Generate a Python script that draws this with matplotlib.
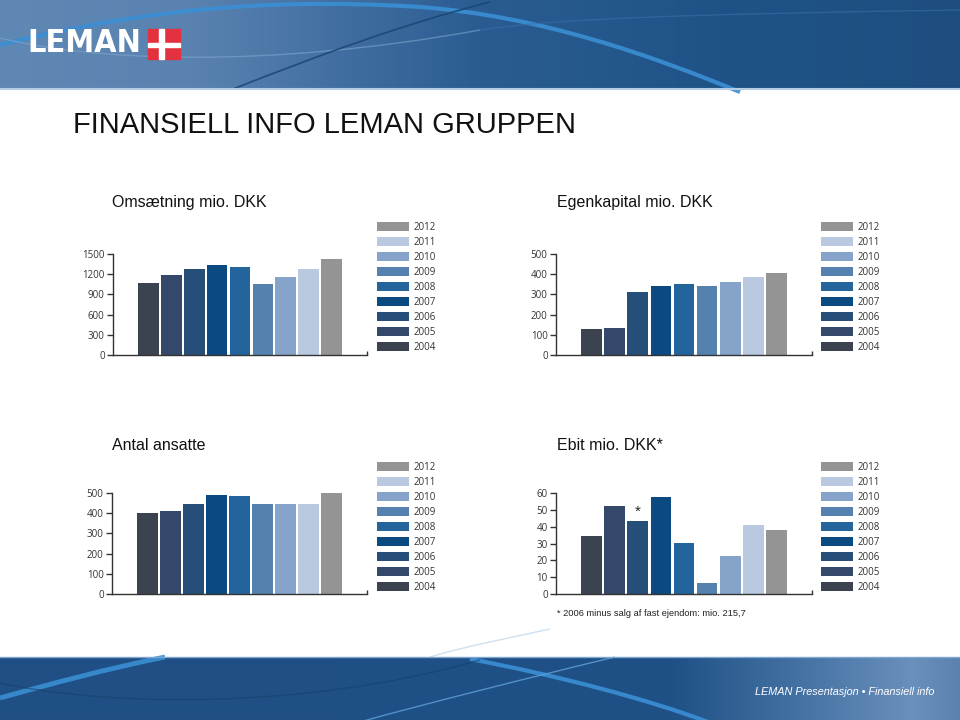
import numpy as np
import matplotlib
matplotlib.use("Agg")
import matplotlib.pyplot as plt
from matplotlib.patches import Patch, Rectangle, PathPatch
from matplotlib.path import Path
from matplotlib.font_manager import FontProperties, findfont

years = ["2004", "2005", "2006", "2007", "2008", "2009", "2010", "2011", "2012"]
bar_colors = ["#3c4350", "#34496a", "#254f79", "#0b4a80", "#23649c",
              "#5581af", "#86a3ca", "#b8c9e0", "#949494"]

omsaetning = [1064, 1188, 1272, 1342, 1312, 1050, 1153, 1272, 1431]
egenkapital = [129, 132, 314, 343, 350, 343, 360, 388, 408]
ansatte = [399, 409, 444, 490, 487, 444, 444, 446, 500]
ebit = [34.7, 52.3, 43.2, 57.8, 30.3, 6.7, 22.8, 40.8, 37.8]

W, H = 960, 720
fig = plt.figure(figsize=(9.6, 7.2), dpi=100)
fig.patch.set_facecolor("white")

# background layer in pixel coordinates (header / footer bands)
bg = fig.add_axes([0, 0, 1, 1], zorder=-5)
bg.set_xlim(0, W)
bg.set_ylim(H, 0)
bg.axis("off")


def gradient(stops, width=W):
    xs = np.linspace(0, 1, width)
    pos = [s[0] for s in stops]
    rgb = np.array([matplotlib.colors.to_rgb(s[1]) for s in stops])
    row = np.stack([np.interp(xs, pos, rgb[:, k]) for k in range(3)], axis=-1)
    return row[None, :, :]


def curve(pts, **kw):
    # pts: start point followed by groups of 3 (cubic bezier)
    codes = [Path.MOVETO] + [Path.CURVE4] * (len(pts) - 1)
    bg.add_patch(PathPatch(Path(pts, codes), facecolor="none", **kw))


head = gradient([(0, "#6088b5"), (0.2, "#5a82b0"), (0.5, "#2a5c92"), (0.75, "#1f5387"), (1, "#1e4e80")])
bg.imshow(head, extent=(0, W, 88, 0), aspect="auto", interpolation="bilinear")
bg.plot([0, W], [88.5, 88.5], color="#b5cde3", lw=1.5)

curve([(0, 45), (120, 15), (250, -4), (420, 7), (540, 16), (650, 55), (740, 92)],
      edgecolor="#3a8fd4", lw=3, alpha=0.9)
curve([(0, 38), (90, 60), (260, 70), (480, 30)], edgecolor="#7fa6cf", lw=1, alpha=0.6)
curve([(480, 30), (560, 18), (700, 14), (960, 10)], edgecolor="#3a6fa6", lw=1, alpha=0.6)
curve([(233, 89), (320, 55), (400, 25), (490, 2)], edgecolor="#1b4677", lw=1.2, alpha=0.9)

# logo
logo_font = None
for fam, stretch in [("Liberation Sans Narrow", "normal"), ("DejaVu Sans", "condensed")]:
    path = findfont(FontProperties(family=fam, stretch=stretch, weight="bold"), fallback_to_default=True)
    if "Narrow" in path or "Condensed" in path:
        logo_font = (fam, stretch)
        break
if logo_font is None:
    logo_font = ("DejaVu Sans", "normal")
logo = fig.text(27 / W, 1 - 44 / H, "LEMAN", color="white", fontsize=24, fontweight="bold",
                family=logo_font[0], fontstretch=logo_font[1], va="center", ha="left")
renderer = fig.canvas.get_renderer()
ext = logo.get_window_extent(renderer)
logo.set_fontsize(24 * 114 / ext.width)
bg.add_patch(Rectangle((148, 29), 32, 30, color="#e4313f"))
bg.add_patch(Rectangle((159, 29), 4.5, 30, color="white"))
bg.add_patch(Rectangle((148, 43), 32, 4, color="white"))

# footer
foot = gradient([(0, "#1f4f84"), (0.7, "#1f5186"), (0.86, "#4c78a9"), (0.95, "#6a90bc"), (1, "#5b82b0")])
bg.imshow(foot, extent=(0, W, H, 657), aspect="auto", interpolation="bilinear")
bg.plot([0, W], [657, 657], color="#7fa6cf", lw=1)
curve([(0, 698), (50, 684), (110, 668), (165, 657)], edgecolor="#3a8fd4", lw=3.5, alpha=0.9)
curve([(470, 659), (560, 676), (650, 700), (708, 722)], edgecolor="#3a8fd4", lw=3, alpha=0.9)
curve([(0, 683), (100, 705), (300, 712), (480, 660)], edgecolor="#173f6d", lw=1, alpha=0.6)
curve([(360, 722), (420, 705), (540, 675), (615, 657)], edgecolor="#5ea1dc", lw=1, alpha=0.8)
curve([(430, 657), (470, 645), (510, 638), (550, 629)], edgecolor="#c2d8ed", lw=1, alpha=0.8)

fig.text(934 / W, 1 - 692 / H, "LEMAN Presentasjon \u2022 Finansiell info", color="white",
         fontsize=7.8, style="italic", family="Liberation Sans", ha="right", va="center")

# title
fig.text(73 / W, 1 - 125 / H, "FINANSIELL INFO LEMAN GRUPPEN", fontsize=21,
         family="Liberation Sans", color="#111111", ha="left", va="center")

panels = [
    ("Omsætning mio. DKK", omsaetning, 1500, 300, (113, 355, 367, 254), (112, 203), (377, 222)),
    ("Egenkapital mio. DKK", egenkapital, 500, 100, (556, 355, 812, 254), (557, 203), (821, 222)),
    ("Antal ansatte", ansatte, 500, 100, (112, 594, 367, 493), (112, 445), (377, 462)),
    ("Ebit mio. DKK*", ebit, 60, 10, (556, 594, 812, 493), (557, 445), (821, 462)),
]

x = np.arange(len(years))
axes = []
for title, vals, ymax, step, (l, b, r, tp), (tx, ty), (lx, ly) in panels:
    ax = fig.add_axes([l / W, 1 - b / H, (r - l) / W, (b - tp) / H])
    ax.bar(x, vals, width=0.9, color=bar_colors, zorder=2, clip_on=False)
    ax.set_xlim(-1.55, 9.55)
    ax.set_ylim(0, ymax)
    ax.set_yticks(np.arange(0, ymax + 1, step))
    ax.set_xticks([9.55])
    ax.set_xticklabels([])
    ax.tick_params(axis="x", direction="in", length=3, width=1, color="#333333")
    ax.tick_params(axis="y", direction="out", length=4, width=1, color="#333333",
                   labelsize=7, labelcolor="#333333", pad=2)
    for lab in ax.get_yticklabels():
        lab.set_family("Open Sans")
    for s in ("top", "right"):
        ax.spines[s].set_visible(False)
    for s in ("left", "bottom"):
        ax.spines[s].set_color("#333333")
        ax.spines[s].set_linewidth(1)
    ax.patch.set_alpha(0)

    fig.text(tx / W, 1 - ty / H, title, fontsize=11.5, family="Liberation Sans",
             color="#111111", ha="left", va="center")

    handles = [Patch(facecolor=c, edgecolor="none") for c in bar_colors][::-1]
    leg = ax.legend(handles, years[::-1], loc="upper left",
                    bbox_to_anchor=(lx / W, 1 - ly / H), bbox_transform=fig.transFigure,
                    frameon=False, handlelength=3.3, handleheight=0.95,
                    handletextpad=0.45, labelspacing=0.41, borderpad=0, borderaxespad=0,
                    prop={"family": "Open Sans", "size": 7})
    for txt in leg.get_texts():
        txt.set_color("#333333")
    axes.append(ax)

# asterisk on 2006 ebit
axes[3].annotate("*", xy=(2, ebit[2]), xytext=(0, 2), textcoords="offset points",
                 ha="center", va="bottom", fontsize=11, family="Liberation Sans", color="#222222")
fig.text(557 / W, 1 - 614 / H, "* 2006 minus salg af fast ejendom: mio. 215,7",
         fontsize=6.7, family="Liberation Sans", color="#222222", ha="left", va="center")

fig.savefig("out.png", dpi=100, facecolor="white")
